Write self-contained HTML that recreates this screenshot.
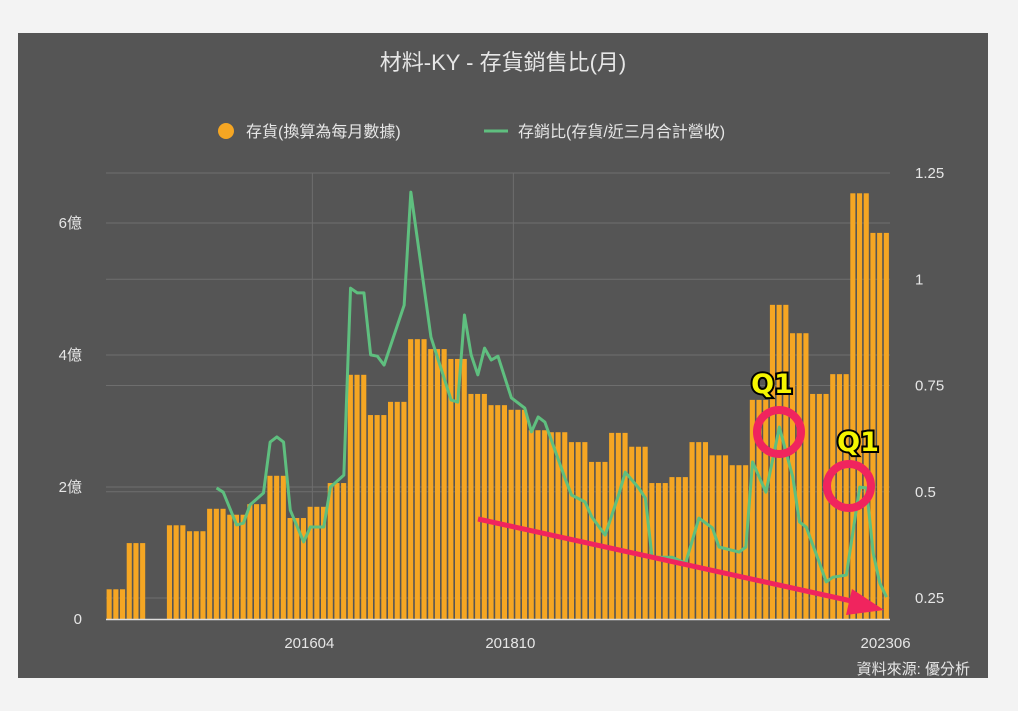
<!DOCTYPE html>
<html><head><meta charset="utf-8"><style>
body{margin:0;background:#f3f3f3;width:1018px;height:711px;overflow:hidden;font-family:"Liberation Sans","Noto Sans CJK TC",sans-serif}
</style></head><body>
<svg width="1018" height="711" style="position:absolute;left:0;top:0">
<rect x="18" y="33" width="970" height="645" fill="#555555"/>
<text x="503" y="70" fill="#e6e6e6" font-size="22" text-anchor="middle" font-family="Liberation Sans,Noto Sans CJK TC,sans-serif">材料-KY - 存貨銷售比(月)</text>
<g>
<circle cx="226" cy="131" r="8" fill="#f5a623"/>
<text x="246" y="137" fill="#e6e6e6" font-size="16">存貨(換算為每月數據)</text>
<line x1="484" y1="131" x2="508" y2="131" stroke="#5fbf7f" stroke-width="3"/>
<text x="518" y="137" fill="#e6e6e6" font-size="16">存銷比(存貨/近三月合計營收)</text>
</g>
<g id="grid"></g><g id="bars"></g><g id="line"></g><g id="axes"></g>
<g>
<line x1="478" y1="519" x2="856" y2="602" stroke="#f0245e" stroke-width="5"/>
<polygon points="884,610 852,589 846,615" fill="#f0245e"/>
<circle cx="779" cy="432" r="22" fill="none" stroke="#f0245e" stroke-width="8"/>
<circle cx="849" cy="486" r="22" fill="none" stroke="#f0245e" stroke-width="8"/>
<text x="772" y="393" fill="#f5f500" stroke="#000" stroke-width="4" paint-order="stroke" font-size="27" font-weight="bold" font-family="DejaVu Sans,sans-serif" text-anchor="middle">Q1</text>
<text x="858" y="451" fill="#f5f500" stroke="#000" stroke-width="4" paint-order="stroke" font-size="27" font-weight="bold" font-family="DejaVu Sans,sans-serif" text-anchor="middle">Q1</text>
</g>
<text x="970" y="674" fill="#e6e6e6" font-size="15" text-anchor="end">資料來源: 優分析</text>
</svg>
<script>
const quarterInventory=[0.45,1.15,0,1.42,1.33,1.67,1.58,1.74,2.17,1.53,1.7,2.06,3.7,3.09,3.29,4.24,4.09,3.94,3.41,3.24,3.17,2.86,2.83,2.68,2.38,2.82,2.61,2.06,2.15,2.68,2.48,2.33,3.32,4.76,4.33,3.41,3.71,6.45,5.85];
const ratioMonths=[16,17,19,20,21,23,24,25,26,27,29,30,32,33,35,36,37,38,39,40,41,44,45,48,51,52,53,54,55,56,57,58,60,62,63,64,65,68,69,71,72,74,76,77,79,80,81,84,86,88,90,91,94,95,96,98,100,102,103,104,106,107,108,110,112,113,114,115,116];
const ratioValues=[.509,.499,.422,.426,.469,.497,.617,.629,.617,.457,.382,.417,.417,.511,.539,.979,.968,.968,.822,.819,.798,.939,1.205,.864,.716,.711,.916,.822,.775,.838,.81,.819,.721,.697,.641,.676,.664,.532,.492,.476,.441,.398,.492,.546,.509,.485,.346,.346,.332,.438,.415,.37,.358,.37,.57,.499,.652,.535,.429,.417,.332,.288,.299,.304,.511,.509,.356,.285,.252];
const leftTicks=[0,2,4,6];
const leftTickLabels=["0","2億","4億","6億"];
const rightTicks=[0.25,0.5,0.75,1,1.25];
const rightTickLabels=["0.25","0.5","0.75","1","1.25"];
const xTickMonths=[30,60,116];
const xTickLabels=["201604","201810","202306"];
const NS="http://www.w3.org/2000/svg";
const X0=106,MW=6.7,Y0=619;
const xm=i=>X0+(i+0.5)*MW;
const yL=v=>Y0-v*66;
const yR=v=>598-(v-0.25)*425;
function mk(t,a,p){const e=document.createElementNS(NS,t);for(const k in a)e.setAttribute(k,a[k]);document.getElementById(p).appendChild(e);return e;}
rightTicks.forEach((v,i)=>{const l=mk('line',{x1:106,x2:890,y1:yR(v),y2:yR(v),stroke:'#6e6e6e','stroke-width':1},'grid');


const t=mk('text',{x:915,y:yR(v)+5,fill:'#e6e6e6','font-size':15},'axes');t.textContent=rightTickLabels[i];

});
leftTicks.forEach((v,i)=>{if(v>0){const l=mk('line',{x1:106,x2:890,y1:yL(v),y2:yL(v),stroke:'#6e6e6e','stroke-width':1},'grid');

}
const t=mk('text',{x:82,y:yL(v)+5,fill:'#e6e6e6','font-size':15,'text-anchor':'end'},'axes');t.textContent=leftTickLabels[i];

});
xTickMonths.forEach((m,i)=>{if(i<2){const l=mk('line',{x1:xm(m)+2,x2:xm(m)+2,y1:173,y2:619,stroke:'#6e6e6e','stroke-width':1},'grid');

}
const t=mk('text',{x:xm(m)-1,y:648,fill:'#e6e6e6','font-size':15,'text-anchor':'middle'},'axes');t.textContent=xTickLabels[i];

});
quarterInventory.forEach((v,q)=>{for(let k=0;k<3;k++){const i=q*3+k;if(v<=0)continue;
const r=mk('rect',{x:X0+i*MW+0.6,y:yL(v),width:MW-1.6,height:Y0-yL(v),fill:'#f5a623'},'bars');

}});
const base=mk('line',{x1:106,x2:890,y1:619.5,y2:619.5,stroke:'#dddddd','stroke-width':1.5},'axes');


const pts=ratioMonths.map((m,i)=>xm(m)+','+yR(ratioValues[i])).join(' ');
const pl=mk('polyline',{points:pts,fill:'none',stroke:'#5fbf7f','stroke-width':3,'stroke-linejoin':'round'},'line');


</script>
</body></html>
